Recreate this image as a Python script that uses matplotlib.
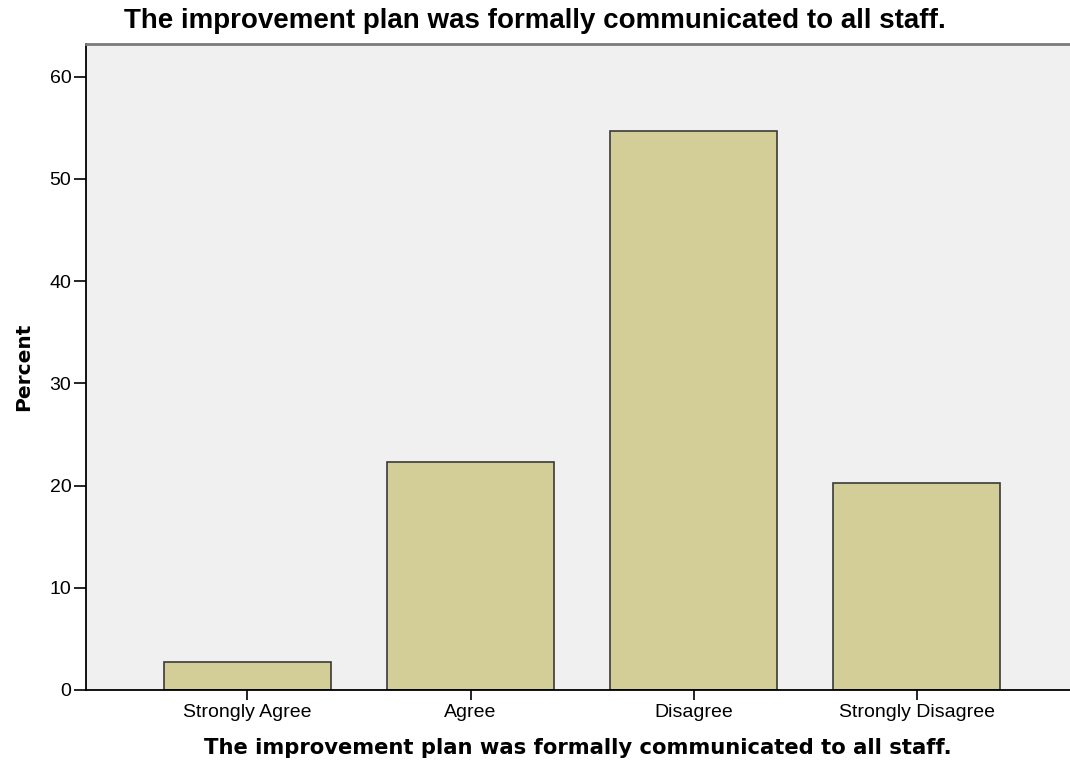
import matplotlib
matplotlib.use("Agg")
import matplotlib.pyplot as plt

categories = ["Strongly Agree", "Agree", "Disagree", "Strongly Disagree"]
percent = [2.7, 22.3, 54.7, 20.3]
yticks = [0, 10, 20, 30, 40, 50, 60]
title = "The improvement plan was formally communicated to all staff."

plt.rcParams["font.family"] = ["Liberation Sans", "DejaVu Sans"]

fig = plt.figure(figsize=(10.7, 7.62), dpi=100)
ax = fig.add_axes([86 / 1070, 1 - 690 / 762, 1 - 86 / 1070, (690 - 44) / 762])
ax.set_facecolor("#f0f0f0")

x = list(range(len(categories)))
ax.bar(x, percent, width=0.75, color="#d3ce98", edgecolor="#3a3a3a", linewidth=1.2, zorder=2)

ax.set_xlim(-0.724, 3.688)
ax.set_ylim(0, 63.2)
ax.set_yticks(yticks)
ax.set_xticks(x)
ax.set_xticklabels(categories)

ax.tick_params(axis="y", length=8.5, width=1.2, pad=2, labelsize=14, color="black")
ax.tick_params(axis="x", length=7, width=1.2, pad=3, labelsize=14, color="black")

for side in ("left", "bottom"):
    ax.spines[side].set_linewidth(1.3)
    ax.spines[side].set_color("black")
ax.spines["right"].set_visible(False)
ax.spines["top"].set_color("#7a7a7a")
ax.spines["top"].set_linewidth(2)

ax.set_ylabel("Percent", fontsize=14.5, fontweight="bold", family="DejaVu Sans", labelpad=12)
ax.set_xlabel(title, fontsize=15.2, fontweight="bold", family="DejaVu Sans", labelpad=12)
fig.text(0.5, 1 - 21 / 762, title, ha="center", va="center", fontsize=20, fontweight="bold")

fig.savefig("out.png", dpi=100)
